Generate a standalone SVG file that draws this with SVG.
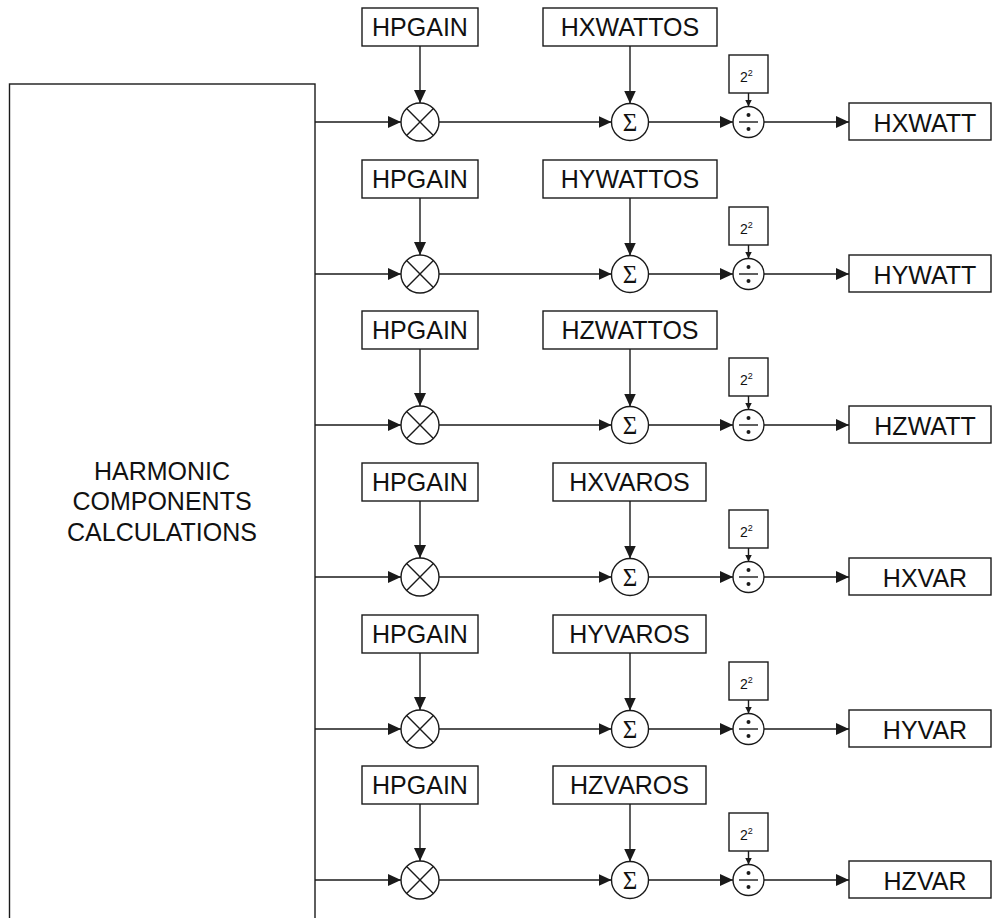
<svg xmlns="http://www.w3.org/2000/svg" xmlns:xlink="http://www.w3.org/1999/xlink" width="992" height="918" viewBox="0 0 992 918">
  <style>
    .box { fill: #fff; stroke: #1a1a1a; stroke-width: 1.4; }
    .op { fill: #fff; stroke: #1a1a1a; stroke-width: 1.4; }
    .mark { stroke: #1a1a1a; stroke-width: 1.4; fill: none; }
    .wire { stroke: #1a1a1a; stroke-width: 1.4; fill: none; }
    .big { marker-end: url(#arrow); }
    .small { marker-end: url(#arrowSmall); }
    .lbl { font-family: "Liberation Sans", Arial, sans-serif; font-size: 25px; fill: #111; text-anchor: middle; }
    .sig { font-family: "Liberation Serif", "Times New Roman", serif; font-size: 25px; fill: #111; text-anchor: middle; }
    .pow { font-family: "Liberation Sans", Arial, sans-serif; font-size: 14px; fill: #111; }
    .dot { fill: #1a1a1a; }
  </style>
  <defs>
    <marker id="arrow" markerUnits="userSpaceOnUse" markerWidth="13" markerHeight="12" refX="13" refY="6" orient="auto">
      <path d="M0,0 L13,6 L0,12 z" fill="#1a1a1a"/>
    </marker>
    <marker id="arrowSmall" markerUnits="userSpaceOnUse" markerWidth="7" markerHeight="7" refX="7" refY="3.5" orient="auto">
      <path d="M0,0 L7,3.5 L0,7 z" fill="#1a1a1a"/>
    </marker>
  </defs>

  <!-- Source block (open at the bottom edge) -->
  <g id="harmonic-calc">
    <rect class="box" x="9.5" y="84" width="305.5" height="900"/>
    <text class="lbl" x="162" y="480">HARMONIC</text>
    <text class="lbl" x="162" y="510">COMPONENTS</text>
    <text class="lbl" x="162" y="541">CALCULATIONS</text>
  </g>

  <!-- Connectors: one subgroup per channel, positioned by row -->
  <g id="connectors">
    <g transform="translate(0,122)">
      <path class="wire big" d="M315,0 H401"/>
      <path class="wire big" d="M420,-76 V-19"/>
      <path class="wire big" d="M439,0 H611.5"/>
      <path class="wire big" d="M630,-76 V-18.5"/>
      <path class="wire big" d="M648.5,0 H733"/>
      <path class="wire small" d="M748.5,-29 V-15.5"/>
      <path class="wire big" d="M764,0 H849"/>
    </g>
    <g transform="translate(0,274)">
      <path class="wire big" d="M315,0 H401"/>
      <path class="wire big" d="M420,-76 V-19"/>
      <path class="wire big" d="M439,0 H611.5"/>
      <path class="wire big" d="M630,-76 V-18.5"/>
      <path class="wire big" d="M648.5,0 H733"/>
      <path class="wire small" d="M748.5,-29 V-15.5"/>
      <path class="wire big" d="M764,0 H849"/>
    </g>
    <g transform="translate(0,425)">
      <path class="wire big" d="M315,0 H401"/>
      <path class="wire big" d="M420,-76 V-19"/>
      <path class="wire big" d="M439,0 H611.5"/>
      <path class="wire big" d="M630,-76 V-18.5"/>
      <path class="wire big" d="M648.5,0 H733"/>
      <path class="wire small" d="M748.5,-29 V-15.5"/>
      <path class="wire big" d="M764,0 H849"/>
    </g>
    <g transform="translate(0,577)">
      <path class="wire big" d="M315,0 H401"/>
      <path class="wire big" d="M420,-76 V-19"/>
      <path class="wire big" d="M439,0 H611.5"/>
      <path class="wire big" d="M630,-76 V-18.5"/>
      <path class="wire big" d="M648.5,0 H733"/>
      <path class="wire small" d="M748.5,-29 V-15.5"/>
      <path class="wire big" d="M764,0 H849"/>
    </g>
    <g transform="translate(0,729)">
      <path class="wire big" d="M315,0 H401"/>
      <path class="wire big" d="M420,-76 V-19"/>
      <path class="wire big" d="M439,0 H611.5"/>
      <path class="wire big" d="M630,-76 V-18.5"/>
      <path class="wire big" d="M648.5,0 H733"/>
      <path class="wire small" d="M748.5,-29 V-15.5"/>
      <path class="wire big" d="M764,0 H849"/>
    </g>
    <g transform="translate(0,880)">
      <path class="wire big" d="M315,0 H401"/>
      <path class="wire big" d="M420,-76 V-19"/>
      <path class="wire big" d="M439,0 H611.5"/>
      <path class="wire big" d="M630,-76 V-18.5"/>
      <path class="wire big" d="M648.5,0 H733"/>
      <path class="wire small" d="M748.5,-29 V-15.5"/>
      <path class="wire big" d="M764,0 H849"/>
    </g>
  </g>

  <!-- Channel 1: HXWATT -->
  <g transform="translate(0,122)">
    <g id="gain-1"><rect class="box" x="362" y="-114" width="116" height="38"/><text class="lbl" x="420" y="-86">HPGAIN</text></g>
    <g id="offset-1"><rect class="box" x="543" y="-114" width="174" height="38"/><text class="lbl" x="630" y="-86">HXWATTOS</text></g>
    <g id="mult-1"><circle class="op" cx="420" cy="0" r="19"/><path class="mark" d="M406.6,-13.4 L433.4,13.4 M406.6,13.4 L433.4,-13.4"/></g>
    <g id="sum-1"><circle class="op" cx="630" cy="0" r="18.5"/><text class="sig" x="630" y="8.5">Σ</text></g>
    <g id="shift-1"><rect class="box" x="729" y="-67" width="39" height="38"/><text class="pow" x="740" y="-40">2<tspan font-size="9" dy="-6">2</tspan></text></g>
    <g id="div-1"><circle class="op" cx="748.5" cy="0" r="15.5"/><path class="mark" d="M739,0 H758"/><circle class="dot" cx="748.5" cy="-7" r="2"/><circle class="dot" cx="748.5" cy="7" r="2"/></g>
    <g id="out-1"><rect class="box" x="849" y="-19" width="142" height="37"/><text class="lbl" x="925" y="9.5">HXWATT</text></g>
  </g>

  <!-- Channel 2: HYWATT -->
  <g transform="translate(0,274)">
    <g id="gain-2"><rect class="box" x="362" y="-114" width="116" height="38"/><text class="lbl" x="420" y="-86">HPGAIN</text></g>
    <g id="offset-2"><rect class="box" x="543" y="-114" width="174" height="38"/><text class="lbl" x="630" y="-86">HYWATTOS</text></g>
    <g id="mult-2"><circle class="op" cx="420" cy="0" r="19"/><path class="mark" d="M406.6,-13.4 L433.4,13.4 M406.6,13.4 L433.4,-13.4"/></g>
    <g id="sum-2"><circle class="op" cx="630" cy="0" r="18.5"/><text class="sig" x="630" y="8.5">Σ</text></g>
    <g id="shift-2"><rect class="box" x="729" y="-67" width="39" height="38"/><text class="pow" x="740" y="-40">2<tspan font-size="9" dy="-6">2</tspan></text></g>
    <g id="div-2"><circle class="op" cx="748.5" cy="0" r="15.5"/><path class="mark" d="M739,0 H758"/><circle class="dot" cx="748.5" cy="-7" r="2"/><circle class="dot" cx="748.5" cy="7" r="2"/></g>
    <g id="out-2"><rect class="box" x="849" y="-19" width="142" height="37"/><text class="lbl" x="925" y="9.5">HYWATT</text></g>
  </g>

  <!-- Channel 3: HZWATT -->
  <g transform="translate(0,425)">
    <g id="gain-3"><rect class="box" x="362" y="-114" width="116" height="38"/><text class="lbl" x="420" y="-86">HPGAIN</text></g>
    <g id="offset-3"><rect class="box" x="543" y="-114" width="174" height="38"/><text class="lbl" x="630" y="-86">HZWATTOS</text></g>
    <g id="mult-3"><circle class="op" cx="420" cy="0" r="19"/><path class="mark" d="M406.6,-13.4 L433.4,13.4 M406.6,13.4 L433.4,-13.4"/></g>
    <g id="sum-3"><circle class="op" cx="630" cy="0" r="18.5"/><text class="sig" x="630" y="8.5">Σ</text></g>
    <g id="shift-3"><rect class="box" x="729" y="-67" width="39" height="38"/><text class="pow" x="740" y="-40">2<tspan font-size="9" dy="-6">2</tspan></text></g>
    <g id="div-3"><circle class="op" cx="748.5" cy="0" r="15.5"/><path class="mark" d="M739,0 H758"/><circle class="dot" cx="748.5" cy="-7" r="2"/><circle class="dot" cx="748.5" cy="7" r="2"/></g>
    <g id="out-3"><rect class="box" x="849" y="-19" width="142" height="37"/><text class="lbl" x="925" y="9.5">HZWATT</text></g>
  </g>

  <!-- Channel 4: HXVAR -->
  <g transform="translate(0,577)">
    <g id="gain-4"><rect class="box" x="362" y="-114" width="116" height="38"/><text class="lbl" x="420" y="-86">HPGAIN</text></g>
    <g id="offset-4"><rect class="box" x="553" y="-114" width="153" height="38"/><text class="lbl" x="629.5" y="-86">HXVAROS</text></g>
    <g id="mult-4"><circle class="op" cx="420" cy="0" r="19"/><path class="mark" d="M406.6,-13.4 L433.4,13.4 M406.6,13.4 L433.4,-13.4"/></g>
    <g id="sum-4"><circle class="op" cx="630" cy="0" r="18.5"/><text class="sig" x="630" y="8.5">Σ</text></g>
    <g id="shift-4"><rect class="box" x="729" y="-67" width="39" height="38"/><text class="pow" x="740" y="-40">2<tspan font-size="9" dy="-6">2</tspan></text></g>
    <g id="div-4"><circle class="op" cx="748.5" cy="0" r="15.5"/><path class="mark" d="M739,0 H758"/><circle class="dot" cx="748.5" cy="-7" r="2"/><circle class="dot" cx="748.5" cy="7" r="2"/></g>
    <g id="out-4"><rect class="box" x="849" y="-19" width="142" height="37"/><text class="lbl" x="925" y="9.5">HXVAR</text></g>
  </g>

  <!-- Channel 5: HYVAR -->
  <g transform="translate(0,729)">
    <g id="gain-5"><rect class="box" x="362" y="-114" width="116" height="38"/><text class="lbl" x="420" y="-86">HPGAIN</text></g>
    <g id="offset-5"><rect class="box" x="553" y="-114" width="153" height="38"/><text class="lbl" x="629.5" y="-86">HYVAROS</text></g>
    <g id="mult-5"><circle class="op" cx="420" cy="0" r="19"/><path class="mark" d="M406.6,-13.4 L433.4,13.4 M406.6,13.4 L433.4,-13.4"/></g>
    <g id="sum-5"><circle class="op" cx="630" cy="0" r="18.5"/><text class="sig" x="630" y="8.5">Σ</text></g>
    <g id="shift-5"><rect class="box" x="729" y="-67" width="39" height="38"/><text class="pow" x="740" y="-40">2<tspan font-size="9" dy="-6">2</tspan></text></g>
    <g id="div-5"><circle class="op" cx="748.5" cy="0" r="15.5"/><path class="mark" d="M739,0 H758"/><circle class="dot" cx="748.5" cy="-7" r="2"/><circle class="dot" cx="748.5" cy="7" r="2"/></g>
    <g id="out-5"><rect class="box" x="849" y="-19" width="142" height="37"/><text class="lbl" x="925" y="9.5">HYVAR</text></g>
  </g>

  <!-- Channel 6: HZVAR -->
  <g transform="translate(0,880)">
    <g id="gain-6"><rect class="box" x="362" y="-114" width="116" height="38"/><text class="lbl" x="420" y="-86">HPGAIN</text></g>
    <g id="offset-6"><rect class="box" x="553" y="-114" width="153" height="38"/><text class="lbl" x="629.5" y="-86">HZVAROS</text></g>
    <g id="mult-6"><circle class="op" cx="420" cy="0" r="19"/><path class="mark" d="M406.6,-13.4 L433.4,13.4 M406.6,13.4 L433.4,-13.4"/></g>
    <g id="sum-6"><circle class="op" cx="630" cy="0" r="18.5"/><text class="sig" x="630" y="8.5">Σ</text></g>
    <g id="shift-6"><rect class="box" x="729" y="-67" width="39" height="38"/><text class="pow" x="740" y="-40">2<tspan font-size="9" dy="-6">2</tspan></text></g>
    <g id="div-6"><circle class="op" cx="748.5" cy="0" r="15.5"/><path class="mark" d="M739,0 H758"/><circle class="dot" cx="748.5" cy="-7" r="2"/><circle class="dot" cx="748.5" cy="7" r="2"/></g>
    <g id="out-6"><rect class="box" x="849" y="-19" width="142" height="37"/><text class="lbl" x="925" y="9.5">HZVAR</text></g>
  </g>
</svg>
